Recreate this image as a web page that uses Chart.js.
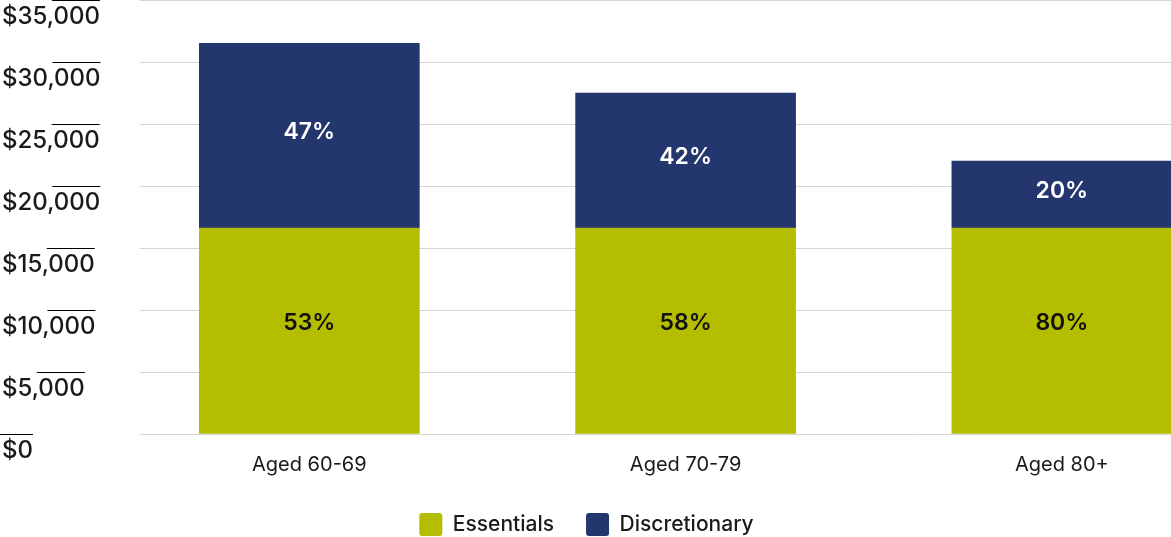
<!DOCTYPE html>
<html>
<head>
<meta charset="utf-8">
<script src="https://cdn.jsdelivr.net/npm/chart.js@4.4.1/dist/chart.umd.min.js"></script>
<style>
  html, body { margin: 0; padding: 0; background: #fff; overflow: hidden; }
  #wrap { width: 1171px; height: 537px; }
</style>
</head>
<body>
<div id="wrap"><canvas id="spendChart"></canvas></div>
<script>
const categories = ["Aged 60-69", "Aged 70-79", "Aged 80+"];
const essentials = [16600, 16600, 16600];
const discretionary = [14900, 10900, 5400];
const essentialsPct = ["53%", "58%", "80%"];
const discretionaryPct = ["47%", "42%", "20%"];
const yMax = 35000;
const yStep = 5000;

const FONT = "Inter";
const olive = "#b5bd00";
const navy = "#24366e";

// percentage labels in the middle of each bar segment
const segmentLabels = {
  id: "segmentLabels",
  afterDatasetsDraw(chart) {
    const ctx = chart.ctx;
    const texts = [essentialsPct, discretionaryPct];
    const colors = ["#111111", "#ffffff"];
    const nudge = [-8, -4];
    ctx.save();
    ctx.font = "600 23px " + FONT;
    ctx.textAlign = "center";
    ctx.textBaseline = "middle";
    chart.data.datasets.forEach((ds, d) => {
      chart.getDatasetMeta(d).data.forEach((bar, i) => {
        const p = bar.getProps(["x", "y", "base"], true);
        ctx.fillStyle = colors[d];
        ctx.fillText(texts[d][i], p.x, (p.y + p.base) / 2 + nudge[d]);
      });
    });
    ctx.restore();
  }
};

// short rule drawn over the right part of each y label
const yLabelRules = {
  id: "yLabelRules",
  afterDraw(chart) {
    const scale = chart.scales.y;
    const ctx = chart.ctx;
    ctx.save();
    ctx.font = "500 24px " + FONT;
    ctx.strokeStyle = "#000";
    ctx.lineWidth = 1;
    scale.ticks.forEach((t) => {
      const w = ctx.measureText(t.label).width;
      const right = scale.left + w;
      const y = Math.round(scale.getPixelForValue(t.value)) + 0.5;
      ctx.beginPath();
      ctx.moveTo(Math.max(0, right - 48), y);
      ctx.lineTo(right, y);
      ctx.stroke();
    });
    ctx.restore();
  }
};

new Chart(document.getElementById("spendChart"), {
  type: "bar",
  data: {
    datasets: [
      {
        label: "Essentials",
        data: essentials.map((v, i) => ({ x: i, y: v })),
        backgroundColor: olive,
        borderWidth: 0
      },
      {
        label: "Discretionary",
        data: discretionary.map((v, i) => ({ x: i, y: v })),
        backgroundColor: navy,
        borderWidth: 0
      }
    ]
  },
  options: {
    responsive: true,
    maintainAspectRatio: false,
    animation: false,
    barThickness: 220,
    layout: { padding: { left: 2, top: 0, right: 0, bottom: -9 } },
    plugins: {
      tooltip: { enabled: false },
      legend: {
        position: "bottom",
        labels: {
          boxWidth: 23,
          boxHeight: 23,
          useBorderRadius: true,
          borderRadius: 3,
          padding: 32,
          color: "#1a1a1a",
          font: { family: FONT, size: 21, weight: "500" }
        }
      }
    },
    scales: {
      x: {
        type: "linear",
        stacked: true,
        offset: false,
        min: -0.45,
        max: 2.29,
        grid: { display: false, offset: false, drawTicks: false },
        border: { display: false },
        afterBuildTicks: (scale) => {
          scale.ticks = categories.map((c, i) => ({ value: i }));
        },
        afterFit: (scale) => {
          scale.height = 47;
          scale.paddingLeft = 0;
          scale.paddingRight = 0;
        },
        ticks: {
          autoSkip: false,
          maxRotation: 0,
          padding: 19,
          color: "#1a1a1a",
          font: { family: FONT, size: 20 },
          callback: (v) => categories[v] || ""
        }
      },
      y: {
        stacked: true,
        min: 0,
        max: yMax,
        grid: { color: "#d6d6d6", drawTicks: false },
        border: { display: false },
        afterFit: (scale) => {
          scale.width = 138;
          scale.paddingTop = 0;
          scale.paddingBottom = 0;
        },
        ticks: {
          stepSize: yStep,
          crossAlign: "far",
          labelOffset: 17,
          color: "#1a1a1a",
          font: { family: FONT, size: 24, weight: "500" },
          callback: (v) => "$" + v.toLocaleString("en-US")
        }
      }
    }
  },
  plugins: [segmentLabels, yLabelRules]
});
</script>
</body>
</html>
